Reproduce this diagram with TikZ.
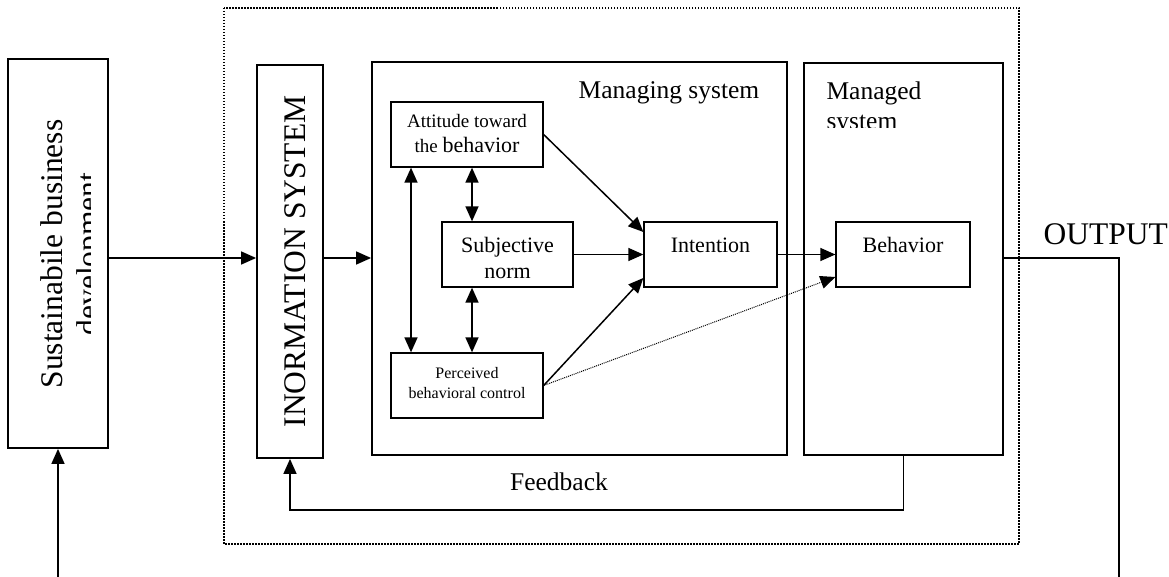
\documentclass[tikz,border=0pt]{standalone}
\usepackage{fontspec}
\setmainfont{Liberation Serif}
\usetikzlibrary{arrows.meta}
\begin{document}
\begin{tikzpicture}[x=1pt, y=-1pt, >={Triangle[length=15pt, width=13pt]},
		box/.style = {draw, line width=1.8pt, inner sep=0pt},
		inbox/.style = {draw, line width=1.3pt, inner sep=0pt, minimum height=65pt, align=center},
		bigtext/.style = {font=\fontsize{31.5}{36}\selectfont},
		midtext/.style = {font=\fontsize{25.5}{30}\selectfont},
		smalltext/.style = {font=\fontsize{22}{27}\selectfont},
		conn/.style = {line width=1.5pt}]
		\useasboundingbox (0,0) rectangle (1169,577);
		\draw[line width=2pt, dash pattern=on 1.5pt off 1.5pt] (224,8) rectangle (1019,544);
		\node[box, minimum width=100pt, minimum height=389pt] (sbd) at (58,253.5) {};
		\node[box, minimum width=66pt, minimum height=393pt] (info) at (290,261.5) {};
		\node[box, minimum width=415pt, minimum height=393pt] (managing) at (579.5,258.5) {};
		\node[box, minimum width=199pt, minimum height=392pt] (managed) at (903.5,259) {};
		\node[inbox, minimum width=152pt, text height=40pt, text depth=3pt, font=\fontsize{19}{25}\selectfont] (att) at (467,134.5) {Attitude toward\\the {\fontsize{22}{25}\selectfont behavior}};
		\node[inbox, minimum width=152pt, text height=30pt, text depth=5pt, font=\fontsize{16}{20}\selectfont] (perc) [below of=att, node distance=251pt] {Perceived\\behavioral control};
		\node[inbox, smalltext, minimum width=131pt, text height=52pt, text depth=3pt] (subj) at (507.5,254.5) {Subjective\\norm};
		\node[inbox, smalltext, minimum width=133pt, text height=15pt, text depth=18pt] (intent) [right of=subj, node distance=203pt] {Intention};
		\node[inbox, smalltext, minimum width=134pt, text height=15pt, text depth=18pt] (behav) [right of=intent, node distance=192.5pt] {Behavior};
		\node[midtext, anchor=base] (managingtext) at (669,99) {Managing system};
		\begin{scope}
			\clip (managed.north west) rectangle (1003,128);
			\node[midtext, anchor=base west] (managedtext) at (823,100) {Managed};
			\node[midtext, anchor=base west] (systemtext) at (823,130) {system};
		\end{scope}
		\begin{scope}
			\clip (sbd.north west) rectangle (90,448);
			\node[bigtext, rotate=90, anchor=base] (sbdtext) at (62,254) {Sustainabile business};
			\node[bigtext, rotate=90, anchor=base] (devtext) at (98,254) {development};
		\end{scope}
		\node[bigtext, rotate=90, anchor=base] (infotext) at (305,261.5) {INORMATION SYSTEM};
		\node[bigtext, anchor=base west] (outtext) at (1040,245) {OUTPUT};
		\node[midtext, anchor=base] (feedtext) at (559,490) {Feedback};
		\coordinate (flow) at (0,258);
		\coordinate (src) at (58,577);
		\coordinate (sink) at (1119,577);
		\draw[conn, ->] (src) -- (sbd.south);
		\draw[conn, ->] (sbd.east |- flow) -- (info.west |- flow);
		\draw[conn, ->] (info.east |- flow) -- (managing.west |- flow);
		\draw[conn] (managed.east |- flow) -| (sink);
		\draw[conn, ->] (managed.south) -- ++(0,54) -| (info.south);
		\draw[conn, <->] ([xshift=-56pt]att.south) -- ([xshift=-56pt]perc.north);
		\draw[conn, <->] ([xshift=5pt]att.south) -- ([xshift=5pt]att.south |- subj.north);
		\draw[conn, <->] ([xshift=5pt]perc.north) -- ([xshift=5pt]perc.north |- subj.south);
		\draw[conn, ->] (att.east) -- ([yshift=22.5pt]intent.west);
		\draw[conn, ->] (subj) -- (intent);
		\draw[conn, ->] (perc.east) -- ([yshift=-23.5pt]intent.west);
		\draw[conn, ->] (intent) -- (behav);
		\draw[line width=1pt, dash pattern=on 1pt off 1pt, ->] (perc.east) -- ([yshift=-22.5pt]behav.west);
	\end{tikzpicture}
\end{document}
